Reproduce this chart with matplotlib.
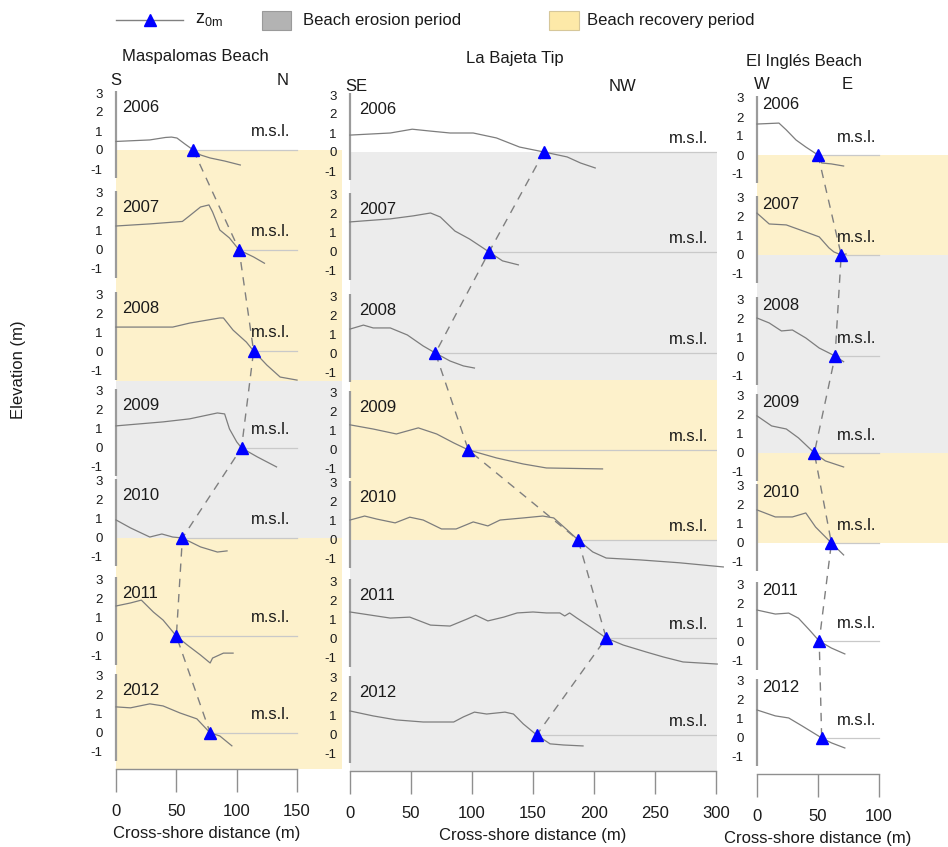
import matplotlib
matplotlib.use("Agg")
import matplotlib.pyplot as plt
from matplotlib.patches import Rectangle
from matplotlib.lines import Line2D

plt.rcParams["font.family"] = ["Liberation Sans", "DejaVu Sans"]
plt.rcParams["mathtext.fontset"] = "custom"
plt.rcParams["mathtext.rm"] = "Liberation Sans"

# ---------------------------------------------------------------- data
YEARS = [2006, 2007, 2008, 2009, 2010, 2011, 2012]
Y_TICK_VALUES = [3, 2, 1, 0, -1]
Y_TICK_LABELS = ["3", "2", "1", "0", "-1"]

# Maspalomas Beach: cross-shore distance (m) / elevation (m)
MASP_X = {
    2006: [0, 28, 41, 46, 50.5, 57, 64, 70, 78, 90, 103],
    2007: [0, 28, 55, 61, 70, 77, 80, 86, 94, 102, 114, 123],
    2008: [0, 47, 61, 86, 89, 97, 108, 114, 125, 136, 150],
    2009: [0, 39, 61, 84, 90, 94, 100, 104, 117, 133],
    2010: [0, 12, 28, 38, 47, 55, 70, 84, 92],
    2011: [0, 12, 21, 31, 39, 50, 59, 70, 78, 80, 89, 97],
    2012: [0, 12, 28, 39, 53, 67, 78, 86, 96],
}
MASP_Z = {
    2006: [0.45, 0.53, 0.66, 0.68, 0.63, 0.32, 0, -0.26, -0.42, -0.58, -0.79],
    2007: [1.26, 1.37, 1.5, 1.8, 2.26, 2.37, 2.0, 1.05, 0.63, 0, -0.37, -0.7],
    2008: [1.26, 1.26, 1.47, 1.74, 1.74, 1.1, 0.47, 0, -0.74, -1.37, -1.53],
    2009: [1.16, 1.37, 1.53, 1.84, 1.79, 1.0, 0.32, 0, -0.47, -1.0],
    2010: [0.95, 0.53, 0.05, 0.21, 0.05, 0, -0.47, -0.74, -0.68],
    2011: [1.58, 1.74, 1.89, 1.26, 0.84, 0, -0.47, -1.0, -1.42, -1.16, -0.9, -0.9],
    2012: [1.37, 1.32, 1.53, 1.42, 1.05, 0.74, 0, -0.16, -0.68],
}
MASP_Z0 = [64, 102, 114, 104, 55, 50, 78]
MASP_PERIODS = ["recovery", "recovery", "erosion", "erosion", "recovery", "recovery"]

# La Bajeta Tip
BAJ_X = {
    2006: [0, 33, 51, 66, 82, 101, 120, 139, 159, 178, 189, 201],
    2007: [0, 33, 52, 66, 74, 86, 98, 114, 125, 138],
    2008: [0, 11, 19, 33, 47, 60, 70, 82, 93, 102],
    2009: [0, 19, 38, 56, 71, 85, 97, 120, 142, 161, 207],
    2010: [0, 12, 22, 37, 49, 60, 75, 87, 101, 113, 123, 142, 158, 167, 178,
           187, 199, 210, 238, 270, 306],
    2011: [0, 33, 49, 66, 82, 96, 103, 113, 126, 137, 150, 161, 172, 176, 180,
           186, 197, 210, 224, 243, 257, 273, 301],
    2012: [0, 19, 38, 60, 85, 93, 102, 112, 127, 134, 142, 153, 164, 175, 191],
}
BAJ_Z = {
    2006: [0.89, 1.0, 1.2, 1.1, 1.0, 1.0, 0.74, 0.26, 0, -0.26, -0.58, -0.84],
    2007: [1.58, 1.74, 1.9, 2.05, 1.84, 1.1, 0.68, 0, -0.47, -0.68],
    2008: [1.26, 1.47, 1.32, 1.32, 0.95, 0.37, 0, -0.42, -0.68, -0.79],
    2009: [1.32, 1.1, 0.84, 1.16, 0.84, 0.37, 0, -0.42, -0.74, -0.95, -1.0],
    2010: [1.05, 1.26, 1.1, 0.9, 1.2, 1.05, 0.58, 0.58, 0.95, 0.74, 1.05, 1.16,
           1.26, 1.16, 0.53, 0, -0.63, -0.95, -1.05, -1.2, -1.42],
    2011: [1.37, 1.05, 1.1, 0.68, 0.63, 1.0, 1.2, 0.9, 1.1, 1.32, 1.37, 1.32,
           1.32, 1.16, 1.32, 1.05, 0.58, 0, -0.37, -0.74, -1.0, -1.26, -1.37],
    2012: [1.26, 1.0, 0.79, 0.68, 0.68, 0.95, 1.2, 1.1, 1.2, 1.1, 0.58, 0,
           -0.47, -0.53, -0.58],
}
BAJ_Z0 = [159, 114, 70, 97, 187, 210, 153]
BAJ_PERIODS = ["erosion", "erosion", "recovery", "recovery", "erosion", "erosion"]

# El Inglés Beach
ING_X = {
    2006: [0, 18, 24, 32, 40, 50, 53, 61, 71],
    2007: [0, 10, 24, 40, 51, 59, 63, 69, 73],
    2008: [0, 10, 20, 29, 40, 51, 64, 71],
    2009: [0, 12, 24, 34, 47, 56, 71],
    2010: [0, 15, 29, 40, 48, 61, 71],
    2011: [0, 15, 26, 34, 43, 51, 61, 72],
    2012: [0, 15, 26, 37, 53, 61, 72],
}
ING_Z = {
    2006: [1.63, 1.68, 1.32, 0.79, 0.42, 0, -0.42, -0.47, -0.58],
    2007: [2.2, 1.63, 1.58, 1.21, 0.95, 0.37, 0.16, 0, 0.05],
    2008: [2.0, 1.74, 1.32, 1.37, 0.95, 0.42, 0, -0.3],
    2009: [1.95, 1.42, 1.26, 0.79, 0, -0.42, -0.74],
    2010: [1.74, 1.37, 1.37, 1.58, 0.84, 0, -0.63],
    2011: [1.63, 1.42, 1.47, 1.2, 0.58, 0, -0.37, -0.68],
    2012: [1.47, 1.16, 1.05, 0.63, 0, -0.26, -0.53],
}
ING_Z0 = [50, 69, 64, 47, 61, 51, 53]
ING_PERIODS = ["recovery", "erosion", "erosion", "recovery", None, None]

# ---------------------------------------------------------------- layout
W, H = 948, 847
PX_PER_UNIT = 19.0
BASELINES = [0, -5.26, -10.58, -15.68, -20.42, -25.58, -30.68]
Y_TOP, Y_BOTTOM = 3.4, -32.58

PERIOD_COLORS = {"erosion": "#ececec", "recovery": "#fdf1cb"}
LEGEND_COLORS = {"erosion": "#b3b3b3", "recovery": "#fde9a8"}
PROFILE_COLOR = "#7d7d7d"
AXIS_COLOR = "#8f8f8f"
TEXT_COLOR = "#1a1a1a"

PANELS = [
    dict(title="Maspalomas Beach", x=MASP_X, z=MASP_Z, z0=MASP_Z0,
         periods=MASP_PERIODS, edge_shift={2: -1.6},
         left=116, right=342, zero_px=150, px_per_m=1.207, x_end=150,
         title_x=66, dirs=[("S", 0), ("N", 138)], dir_dy=3.2,
         year_dx=4.5, year_y=2.25, msl_x=144, msl_y=0.95),
    dict(title="La Bajeta Tip", x=BAJ_X, z=BAJ_Z, z0=BAJ_Z0,
         periods=BAJ_PERIODS, edge_shift={2: -1.4},
         left=350, right=717, zero_px=152, px_per_m=1.22, x_end=300,
         title_x=135, dirs=[("SE", 5), ("NW", 223)], dir_dy=0.3,
         year_dx=6.5, year_y=2.25, msl_x=293.5, msl_y=0.72),
    dict(title="El Inglés Beach", x=ING_X, z=ING_Z, z0=ING_Z0,
         periods=ING_PERIODS, edge_shift={},
         left=757, right=948, zero_px=155, px_per_m=1.22, x_end=100,
         title_x=38.5, dirs=[("W", 4), ("E", 74)], dir_dy=3.9,
         year_dx=3.5, year_y=2.65, msl_x=98, msl_y=0.93),
]

fig = plt.figure(figsize=(W / 100, H / 100), dpi=100)


def period_bands(periods, edge_shift):
    """Merge consecutive survey intervals of the same kind into bands."""
    bands = []
    i = 0
    while i < len(periods):
        kind = periods[i]
        j = i
        while j < len(periods) and periods[j] == kind:
            j += 1
        if kind is not None:
            top = BASELINES[i] + edge_shift.get(i, 0)
            bottom = Y_BOTTOM if j == len(YEARS) - 1 else BASELINES[j] + edge_shift.get(j, 0)
            bands.append((kind, bottom, top))
        i = j
    return bands


for p in PANELS:
    top_px = p["zero_px"] - Y_TOP * PX_PER_UNIT
    bot_px = p["zero_px"] - Y_BOTTOM * PX_PER_UNIT
    ax = fig.add_axes([p["left"] / W, 1 - bot_px / H,
                       (p["right"] - p["left"]) / W, (bot_px - top_px) / H])
    ax.patch.set_alpha(0)
    ax.set_xlim(0, (p["right"] - p["left"]) / p["px_per_m"])
    ax.set_ylim(Y_BOTTOM, Y_TOP)

    # erosion / recovery shading
    for kind, bottom, top in period_bands(p["periods"], p["edge_shift"]):
        ax.axhspan(bottom, top, color=PERIOD_COLORS[kind], lw=0, zorder=0)

    for k, year in enumerate(YEARS):
        base = BASELINES[k]
        # per-profile elevation axis segment
        ax.plot([0, 0], [base - 1.5, base + 3.1], color="#9b9b9b", lw=1.6,
                solid_capstyle="butt", clip_on=False, zorder=1)
        # mean sea level reference
        ax.plot([p["z0"][k], p["x_end"]], [base, base], color="#c9c9c9",
                lw=0.9, zorder=1)
        ax.text(p["msl_x"], base + p["msl_y"], "m.s.l.", ha="right",
                va="center", fontsize=12, color=TEXT_COLOR, zorder=3)
        # beach profile
        ax.plot(p["x"][year], [base + v for v in p["z"][year]],
                color=PROFILE_COLOR, lw=0.9, clip_on=False, zorder=2)
        ax.annotate(str(year), xy=(0, base + p["year_y"]),
                    xytext=(p["year_dx"], 0), textcoords="offset points",
                    ha="left", va="center", fontsize=12, color=TEXT_COLOR)

    # shoreline (z = 0 m) migration
    ax.plot(p["z0"], BASELINES, color="#7f7f7f", lw=1.0,
            dashes=(6, 5), zorder=3)
    ax.plot(p["z0"], BASELINES, ls="none", marker="^", ms=9,
            color="#0000ff", zorder=5, clip_on=False)

    # axes styling
    ticks_y = [BASELINES[k] + v for k in range(len(YEARS)) for v in Y_TICK_VALUES]
    labels_y = Y_TICK_LABELS * len(YEARS)
    ax.set_yticks(ticks_y)
    ax.set_yticklabels(labels_y)
    ax.tick_params(axis="y", length=0, pad=9.5, labelsize=9.5,
                   labelcolor=TEXT_COLOR)
    for side in ("top", "right", "left"):
        ax.spines[side].set_visible(False)
    ax.spines["bottom"].set_bounds(0, p["x_end"])
    ax.spines["bottom"].set_color(AXIS_COLOR)
    ax.spines["bottom"].set_linewidth(1.0)
    ax.set_xticks(list(range(0, p["x_end"] + 1, 50)))
    ax.tick_params(axis="x", direction="out", length=16.5, width=1.0,
                   color=AXIS_COLOR, labelsize=12, pad=9,
                   labelcolor=TEXT_COLOR)
    ax.annotate("Cross-shore distance (m)", xy=(p["x_end"] / 2, 0),
                xycoords=("data", "axes fraction"), xytext=(0, -46.5),
                textcoords="offset points", ha="center", va="center",
                fontsize=12, color=TEXT_COLOR)

    # titles and orientation
    ax.annotate(p["title"], xy=(p["title_x"], 1),
                xycoords=("data", "axes fraction"), xytext=(0, 20.5),
                textcoords="offset points", ha="center", va="center",
                fontsize=12, color=TEXT_COLOR)
    for label, xpos in p["dirs"]:
        ax.annotate(label, xy=(xpos, 1), xycoords=("data", "axes fraction"),
                    xytext=(0, p["dir_dy"]), textcoords="offset points",
                    ha="center", va="center", fontsize=12, color=TEXT_COLOR)

fig.text(19 / W, 1 - 370 / H, "Elevation (m)", rotation=90, ha="center",
         va="center", fontsize=12, color=TEXT_COLOR)

# legend row (pixel-like coordinates)
lax = fig.add_axes([0, 0, 1, 1])
lax.set_xlim(0, W)
lax.set_ylim(H, 0)
lax.axis("off")
lax.add_line(Line2D([116, 183], [20, 20], color="#808080", lw=1.0))
lax.add_line(Line2D([150], [20], marker="^", ms=9, color="#0000ff", ls="none"))
lax.text(195, 20, r"$\mathregular{z_{0m}}$", fontsize=13, ha="left",
         va="center", color=TEXT_COLOR)
lax.add_patch(Rectangle((262, 11), 29, 19, facecolor=LEGEND_COLORS["erosion"],
                        edgecolor="#9a9a9a", lw=0.8))
lax.text(303, 20, "Beach erosion period", fontsize=12, ha="left",
         va="center", color=TEXT_COLOR)
lax.add_patch(Rectangle((549, 11), 30, 19, facecolor=LEGEND_COLORS["recovery"],
                        edgecolor="#d6c79a", lw=0.8))
lax.text(587, 20, "Beach recovery period", fontsize=12, ha="left",
         va="center", color=TEXT_COLOR)

fig.savefig("out.png", dpi=100)
